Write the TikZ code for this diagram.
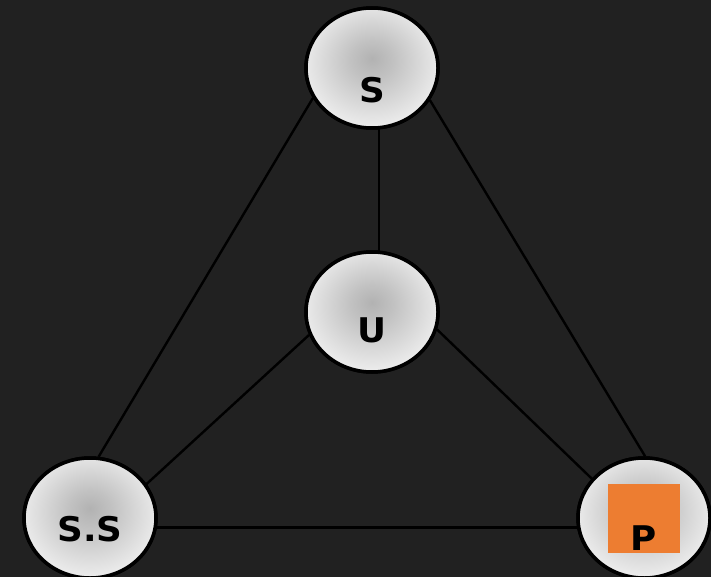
\documentclass[tikz,border=0pt]{standalone}
\usepackage{fontspec}
\newfontfamily\tagfont{DejaVu Sans}
\usetikzlibrary{shapes.geometric}
\definecolor{board}{RGB}{33,33,33}
\definecolor{bulbmid}{RGB}{178,178,178}
\definecolor{bulbedge}{RGB}{240,240,240}
\definecolor{marker}{RGB}{237,125,49}
\pgfdeclareradialshading{bulb}{\pgfpoint{0bp}{4bp}}{color(0bp)=(bulbmid); color(8bp)=(bulbmid!75!bulbedge); color(28bp)=(bulbedge); color(50bp)=(bulbedge)}
\tikzset{
  vertex/.style={ellipse, draw=black, line width=3.5pt, shading=bulb, minimum width=132pt, minimum height=120pt, inner sep=0pt},
  tag/.style={font=\tagfont\bfseries\fontsize{34}{34}\selectfont, text=black, inner sep=0pt, xscale=1.05},
  edge/.style={draw=black, line width=2.4pt}
}
\begin{document}
\begin{tikzpicture}[x=1pt,y=-1pt]
                      \fill[board] (0,0) rectangle (711,577);
                      \useasboundingbox (0,0) rectangle (711,577);
                      % connectors first, vertices on top
                      \coordinate (s0) at (372,68);
                      \coordinate (u0) at (372,312);
                      \coordinate (ss0) at (90,518);
                      \coordinate (p0) at (644,518);
                      \path[edge] ([xshift=7pt]s0) -- ([xshift=7pt]u0);
                      \node[vertex] (s) at (s0) {};
                      \node[vertex] (u) at (u0) {};
                      \node[vertex] (ss) at (ss0) {};
                      \node[vertex] (p) at (p0) {};
                      \path[edge] (s.207) -- (ss.82);
                      \path[edge] (s.331) -- (p.89);
                      \path[edge] (u.200) -- (ss.31);
                      \path[edge] (u.345) -- (p.143);
                      \path[edge] (ss.352) -- (p.188);
                      \node[vertex] at (s0) {};
                      \node[vertex] at (u0) {};
                      \node[vertex] at (ss0) {};
                      \node[vertex] at (p0) {};
                      \node[fill=marker, minimum width=72pt, minimum height=69pt, inner sep=0pt] (box) at (644,518) {};
                      \node[tag] (s-t) at ([yshift=-22pt]s.center) {S};
                      \node[tag] (u-t) at ([yshift=-18pt]u.center) {U};
                      \node[tag] (ss-t) at ([yshift=-11pt]ss.center) {S.S};
                      \node[tag] (p-t) at ([yshift=-20pt]p.center) {P};
                  \end{tikzpicture}
\end{document}
